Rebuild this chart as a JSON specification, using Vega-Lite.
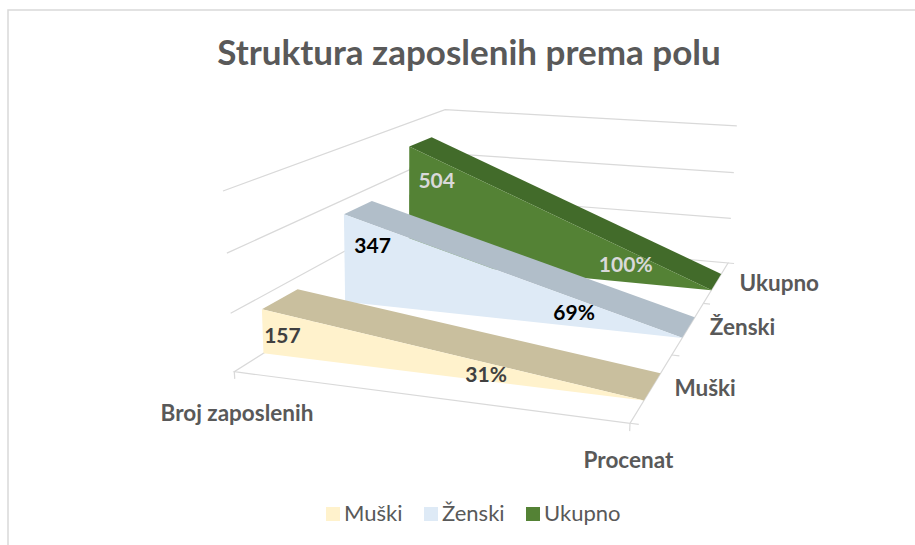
{
"$schema":"https://vega.github.io/schema/vega-lite/v6.json",
"width":908,"height":536,
"autosize":"none",
"padding":{"left":8,"top":10,"right":0,"bottom":0},
"background":"white",
"config":{"view":{"stroke":"#D9D9D9","strokeWidth":1.5},"font":"Lato"},
"title":{"text":"Struktura zaposlenih prema polu","font":"Lato","fontSize":35,"fontWeight":"bold","color":"#595959","anchor":"middle","frame":"group","orient":"top","offset":-74,"dx":7},
"datasets":{
"rows":[
{"series":"Ukupno","category":"Broj zaposlenih","value":504},
{"series":"Ukupno","category":"Procenat","value":1},
{"series":"Ženski","category":"Broj zaposlenih","value":347},
{"series":"Ženski","category":"Procenat","value":0.69},
{"series":"Muški","category":"Broj zaposlenih","value":157},
{"series":"Muški","category":"Procenat","value":0.31}
],
"grid":[
{"line":"g200","o":0,"u":0,"v":0,"value":200},{"line":"g200","o":1,"u":0,"v":1,"value":200},{"line":"g200","o":2,"u":1,"v":1,"value":200},
{"line":"g400","o":0,"u":0,"v":0,"value":400},{"line":"g400","o":1,"u":0,"v":1,"value":400},{"line":"g400","o":2,"u":1,"v":1,"value":400},
{"line":"g600","o":0,"u":0,"v":0,"value":600},{"line":"g600","o":1,"u":0,"v":1,"value":600},{"line":"g600","o":2,"u":1,"v":1,"value":600},
{"line":"floor","o":0,"u":0,"v":1,"value":0},{"line":"floor","o":1,"u":0,"v":0,"value":0},{"line":"floor","o":2,"u":1,"v":0,"value":0},{"line":"floor","o":3,"u":1,"v":1,"value":0},{"line":"floor","o":4,"u":0,"v":1,"value":0},
{"line":"t1","o":0,"u":0,"v":0,"value":0},{"line":"t1","o":1,"u":0,"v":0,"value":-25},
{"line":"t2","o":0,"u":1,"v":0,"value":0},{"line":"t2","o":1,"u":1,"v":0,"value":-25},
{"line":"t3","o":0,"u":1,"v":0,"value":0},{"line":"t3","o":1,"u":1.02,"v":0,"value":0},
{"line":"t4","o":0,"u":1,"v":0.3333,"value":0},{"line":"t4","o":1,"u":1.02,"v":0.3333,"value":0},
{"line":"t5","o":0,"u":1,"v":0.6667,"value":0},{"line":"t5","o":1,"u":1.02,"v":0.6667,"value":0},
{"line":"t6","o":0,"u":1,"v":1,"value":0},{"line":"t6","o":1,"u":1.02,"v":1,"value":0}
],
"axisLabels":[{"label":"Broj zaposlenih"},{"label":"Procenat"},{"label":"Muški"},{"label":"Ženski"},{"label":"Ukupno"}]
},
"encoding":{
"x":{"field":"px","type":"quantitative","scale":{"domain":[8,916],"range":[0,908]},"axis":null},
"y":{"field":"py","type":"quantitative","scale":{"domain":[10,546],"range":[0,536]},"axis":null}
},
"layer":[
{"data":{"name":"grid"},
"transform":[
{"calculate":"datum.value/600","as":"z"},
{"calculate":"1-0.09776*datum.u+0.43717*datum.v-0.045*datum.z","as":"w"},
{"calculate":"(234.3+334.11*datum.u+406.68*datum.v-21.33*datum.z)/datum.w","as":"px"},
{"calculate":"(371.7+10.19*datum.u-29.65*datum.v-189.3*datum.z)/datum.w","as":"py"}],
"mark":{"type":"line","stroke":"#D9D9D9","strokeWidth":1.2,"clip":false},
"encoding":{"detail":{"field":"line"},"order":{"field":"o","type":"quantitative"}}},
{"data":{"name":"rows"},
"transform":[
{"calculate":"datum.category=='Procenat'?1:0","as":"u"},
{"calculate":"indexof(['Muški','Ženski','Ukupno'],datum.series)","as":"s"},
{"calculate":"['top','front']","as":"face"},{"flatten":["face"]},
{"calculate":"[0,1]","as":"corner"},{"flatten":["corner"]},
{"calculate":"datum.s/3+0.1+(datum.face=='top'?datum.corner*0.1333:0)","as":"v"},
{"calculate":"(datum.face=='top'?1:datum.corner)*datum.value/600","as":"z"},
{"calculate":"datum.u==0?3*datum.corner:1+datum.corner","as":"o"},
{"calculate":"datum.series+'|'+datum.face","as":"tone"},
{"calculate":"1-0.09776*datum.u+0.43717*datum.v-0.045*datum.z","as":"w"},
{"calculate":"(234.3+334.11*datum.u+406.68*datum.v-18*datum.z)/datum.w","as":"px"},
{"calculate":"(371.7+10.19*datum.u-29.65*datum.v-189.3*datum.z)/datum.w","as":"py"}],
"mark":{"type":"line","interpolate":"linear-closed","strokeWidth":0},
"encoding":{
"fill":{"field":"tone","type":"nominal","legend":null,"scale":{"domain":["Muški|front","Muški|top","Ženski|front","Ženski|top","Ukupno|front","Ukupno|top"],"range":["#FFF2CC","#C9BF9E","#DEEAF6","#B1BEC9","#548235","#426B2A"]}},
"order":{"field":"o","type":"quantitative"}}},
{"data":{"name":"rows"},
"transform":[
{"calculate":"0.5","as":"px"},{"calculate":"0.5","as":"py"}],
"mark":{"type":"point","shape":"square","filled":true,"opacity":0},
"encoding":{
"color":{"field":"series","type":"nominal","scale":{"domain":["Muški","Ženski","Ukupno"],"range":["#FFF2CC","#DEEAF6","#548235"]},
"legend":{"orient":"none","legendX":314,"legendY":493,"direction":"horizontal","title":null,"symbolType":"square","symbolSize":196,"symbolOpacity":1,"labelFont":"Lato","labelFontSize":22,"labelColor":"#595959","columnPadding":17,"symbolStrokeWidth":0,"labelOffset":0}}}},
{"data":{"name":"rows"},
"transform":[
{"calculate":"indexof(['Muški','Ženski','Ukupno'],datum.series)","as":"s"},
{"calculate":"datum.s/3+0.1","as":"v"},
{"calculate":"datum.category=='Procenat'?[0.609,0.697,0.73][datum.s]:[0.0575,0.0928,0.1008][datum.s]","as":"u"},
{"calculate":"datum.category=='Procenat'?[0.028,0.08,0.115][datum.s]:datum.value*0.0014-0.105","as":"z"},
{"calculate":"datum.category=='Procenat'?format(datum.value,'.0%'):format(datum.value,'d')","as":"txt"},
{"calculate":"1-0.09776*datum.u+0.43717*datum.v-0.045*datum.z","as":"w"},
{"calculate":"(234.3+334.11*datum.u+406.68*datum.v-21.33*datum.z)/datum.w","as":"px"},
{"calculate":"(371.7+10.19*datum.u-29.65*datum.v-189.3*datum.z)/datum.w","as":"py"}],
"mark":{"type":"text","font":"Lato","fontSize":21,"fontWeight":"bold","align":"center","baseline":"middle"},
"encoding":{
"text":{"field":"txt"},
"color":{"condition":[{"test":"datum.series=='Ukupno'","value":"#D9D9D9"},{"test":"datum.series=='Ženski'","value":"#000000"}],"value":"#404040"}}},
{"data":{"name":"axisLabels"},
"transform":[
{"calculate":"{'Broj zaposlenih':0,'Procenat':1,'Muški':1.127,'Ženski':1.148,'Ukupno':1.193}[datum.label]","as":"u"},
{"calculate":"{'Broj zaposlenih':0,'Procenat':0,'Muški':0.1667,'Ženski':0.5,'Ukupno':0.8333}[datum.label]","as":"v"},
{"calculate":"{'Broj zaposlenih':-0.25,'Procenat':-0.2,'Muški':0.02,'Ženski':0.03,'Ukupno':0.03}[datum.label]","as":"z"},
{"calculate":"1-0.09776*datum.u+0.43717*datum.v-0.045*datum.z","as":"w"},
{"calculate":"(234.3+334.11*datum.u+406.68*datum.v-21.33*datum.z)/datum.w","as":"px"},
{"calculate":"(371.7+10.19*datum.u-29.65*datum.v-189.3*datum.z)/datum.w","as":"py"}],
"mark":{"type":"text","font":"Lato","fontSize":22.5,"fontWeight":"bold","align":"center","baseline":"middle","color":"#595959"},
"encoding":{"text":{"field":"label"}}}
]
}
